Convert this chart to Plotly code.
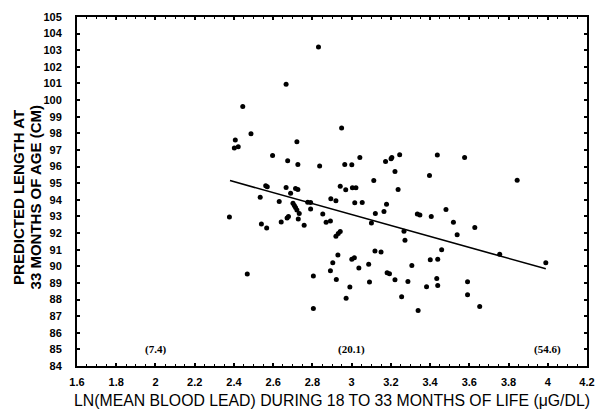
import plotly.graph_objects as go

# Scatter points: ln(mean blood lead) vs predicted length at 33 months (cm)
ln_lead = [
    2.831, 2.666, 2.445, 2.487, 2.407, 2.402, 2.422, 2.949, 2.721, 2.597,
    2.674, 2.726, 2.837, 2.965, 3.001, 3.042, 3.173, 3.201, 3.205, 3.245,
    3.221, 3.113, 2.942, 2.970, 3.004, 3.022, 3.237, 2.562, 2.570, 2.666,
    2.714, 2.726, 2.689, 2.534, 2.894, 2.920, 2.631, 2.701, 2.708, 2.714,
    2.721, 2.776, 2.791, 3.016, 3.054, 3.178, 3.165, 3.121, 2.791, 2.733,
    2.853, 2.377, 2.671, 2.678, 2.641, 2.728, 2.540, 2.567, 2.758, 2.870,
    2.892, 3.101, 3.267, 3.272, 2.920, 2.932, 2.942, 3.119, 3.150, 2.930,
    3.001, 3.014, 3.307, 2.904, 3.087, 3.037, 2.892, 3.181, 3.193, 2.468,
    2.805, 2.922, 3.221, 3.091, 3.287, 2.991, 3.255, 2.972, 2.805, 3.437,
    3.576, 3.397, 3.844, 3.335, 3.348, 3.406, 3.481, 3.519, 3.628, 3.538,
    3.459, 3.401, 3.439, 3.755, 3.990, 3.434, 3.439, 3.382, 3.591, 3.591,
    3.339, 3.653,
]
length_cm = [
    103.19, 100.96, 99.61, 97.98, 97.60, 97.12, 97.20, 98.32, 97.50, 96.66,
    96.35, 96.13, 96.03, 96.13, 96.11, 96.55, 96.31, 96.47, 96.55, 96.71,
    95.71, 95.16, 94.81, 94.60, 94.72, 94.72, 94.62, 94.84, 94.78, 94.74,
    94.68, 94.62, 94.40, 94.16, 94.06, 93.94, 93.90, 93.80, 93.66, 93.53,
    93.38, 93.86, 93.84, 93.82, 93.84, 93.74, 93.30, 93.17, 93.44, 93.17,
    93.15, 92.97, 92.91, 92.99, 92.67, 92.85, 92.55, 92.31, 92.47, 92.65,
    92.73, 92.61, 92.11, 91.56, 91.80, 91.97, 92.09, 90.92, 90.86, 90.68,
    90.42, 90.52, 90.04, 90.21, 90.12, 89.89, 89.73, 89.61, 89.55, 89.53,
    89.41, 89.21, 89.19, 89.05, 89.09, 88.75, 88.17, 88.07, 87.46, 96.69,
    96.55, 95.47, 95.17, 93.14, 93.08, 92.99, 93.42, 92.65, 92.33, 91.90,
    91.00, 90.40, 90.42, 90.72, 90.22, 89.27, 88.85, 88.77, 89.07, 88.29,
    87.34, 87.58,
]

# Fitted regression line endpoints
fit_x = [2.38, 3.99]
fit_y = [95.16, 89.85]

# Reference annotations (blood lead in ug/dL at ln values)
ref_x = [2.0, 3.0, 4.0]
ref_labels = ["(7.4)", "(20.1)", "(54.6)"]
ref_y = 85

x_ticks = [1.6, 1.8, 2.0, 2.2, 2.4, 2.6, 2.8, 3.0, 3.2, 3.4, 3.6, 3.8, 4.0, 4.2]
x_tick_text = ["1.6", "1.8", "2", "2.2", "2.4", "2.6", "2.8", "3", "3.2", "3.4", "3.6", "3.8", "4", "4.2"]
y_ticks = list(range(84, 106))

x_title = "LN(MEAN BLOOD LEAD) DURING 18 TO 33 MONTHS OF LIFE (\u03bcG/DL)"
y_title_lines = ["PREDICTED LENGTH AT", "33 MONTHS OF AGE (CM)"]

FONT = "Liberation Sans, Arial, Helvetica, sans-serif"

fig = go.Figure()
fig.add_trace(go.Scatter(
    x=ln_lead, y=length_cm, mode="markers",
    marker=dict(color="black", size=5),
    showlegend=False, hoverinfo="skip",
))
fig.add_trace(go.Scatter(
    x=fit_x, y=fit_y, mode="lines",
    line=dict(color="black", width=1.6),
    showlegend=False, hoverinfo="skip",
))

for xv, lab in zip(ref_x, ref_labels):
    fig.add_annotation(
        x=xv, y=ref_y, text=lab, showarrow=False,
        font=dict(family="Liberation Serif, Times New Roman, serif", size=11, color="black", weight="bold"),
        xanchor="center", yanchor="middle",
    )

# Y-axis title as two rotated lines (tighter line spacing than default)
for i, line in enumerate(y_title_lines):
    fig.add_annotation(
        xref="paper", yref="paper", x=0, y=0.483,
        xshift=-58.5 + 16.5 * i,
        text=line, textangle=-90, showarrow=False,
        font=dict(family=FONT, size=15, color="black", weight="bold"),
        xanchor="center", yanchor="middle",
    )

fig.update_layout(
    width=606, height=418,
    margin=dict(l=77, r=11, t=15, b=51),
    paper_bgcolor="white", plot_bgcolor="white",
    font=dict(family=FONT, color="black"),
)
fig.update_xaxes(
    range=[1.6, 4.2], tickvals=x_ticks, ticktext=x_tick_text,
    showgrid=False, zeroline=False,
    showline=True, linecolor="black", linewidth=2, mirror="ticks",
    ticks="inside", ticklen=3, tickwidth=1.5, tickcolor="black",
    ticklabelstandoff=5,
    minor=dict(dtick=0.05, ticks="inside", ticklen=2, tickcolor="black", tickwidth=1),
    tickfont=dict(family=FONT, size=11, color="black", weight="bold"),
    title=dict(text=x_title, font=dict(family=FONT, size=15.8, color="black"), standoff=8),
)
fig.update_yaxes(
    range=[84, 105], tickvals=y_ticks,
    showgrid=False, zeroline=False,
    showline=True, linecolor="black", linewidth=2, mirror="ticks",
    ticks="inside", ticklen=3, tickwidth=1.5, tickcolor="black",
    ticklabelstandoff=11,
    tickfont=dict(family=FONT, size=11, color="black", weight="bold"),
)

fig.write_html("out.html")
